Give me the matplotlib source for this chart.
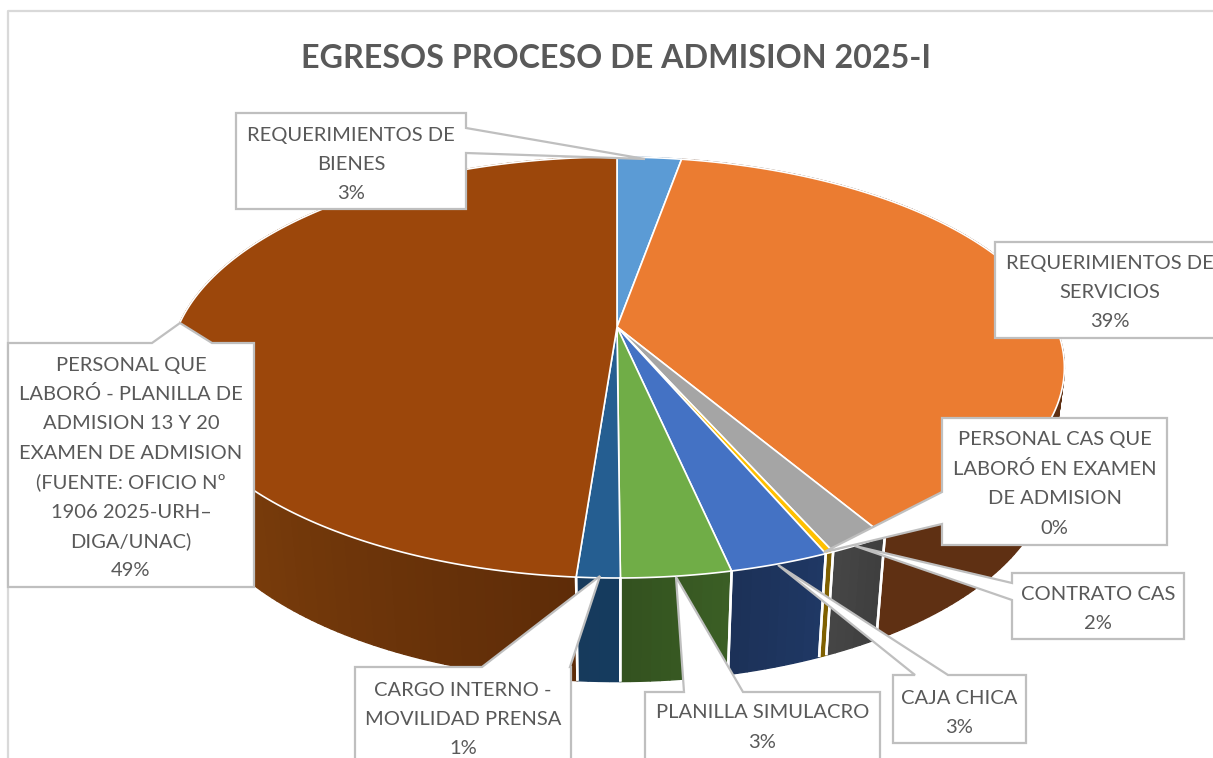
import numpy as np
import matplotlib
matplotlib.use("Agg")
import matplotlib.pyplot as plt
from matplotlib.patches import Polygon

title = "EGRESOS PROCESO DE ADMISION 2025-I"

# clockwise from 12 o'clock
names = [
    "REQUERIMIENTOS DE\nBIENES",
    "REQUERIMIENTOS DE\nSERVICIOS",
    "CONTRATO CAS",
    "PERSONAL CAS QUE\nLABORÓ EN EXAMEN\nDE ADMISION",
    "CAJA CHICA",
    "PLANILLA SIMULACRO",
    "CARGO INTERNO -\nMOVILIDAD PRENSA",
    "PERSONAL QUE\nLABORÓ - PLANILLA DE\nADMISION 13 Y 20\nEXAMEN DE ADMISION\n(FUENTE: OFICIO Nº\n1906 2025-URH–\nDIGA/UNAC)",
]
values = [2.8, 38.7, 1.85, 0.25, 3.0, 3.3, 1.3, 48.8]
top_colors = ["#5B9BD5", "#EB7C31", "#A5A5A5", "#FFC000", "#4472C4", "#70AD47", "#255E91", "#9C470B"]
wall_left = ["#2F5F8F", "#5F3013", "#3F3F3F", "#7F6000", "#1F3864", "#3B5E25", "#153B5F", "#80400C"]
wall_right = ["#2F5F8F", "#5F3013", "#454545", "#7F6000", "#1C3158", "#33521F", "#163A5C", "#5E2C08"]

# label box: x0, y0, x1, y1, text centre y of the first line
boxes = [
    (236, 113, 466, 209, 135),
    (995, 242, 1225, 338, 263),
    (1012, 573, 1184, 639, 594),
    (942, 418, 1167, 545, 440),
    (893, 675, 1026, 743, 698),
    (645, 692, 880, 775, 713),
    (355, 667, 571, 775, 690),
    (8, 343, 254, 587, 365),
]
# leader: tip and the two points where it leaves the box (None = no leader)
leaders = [
    ((645, 159), (466, 128), (466, 153)),
    None,
    ((855, 546), (1012, 583), (1012, 600)),
    ((824, 552), (942, 492), (942, 524)),
    ((778, 565), (915, 675), (948, 675)),
    ((676, 577), (684, 692), (743, 692)),
    ((600, 576), (482, 667), (570, 667)),
    ((180, 323), (152, 343), (212, 343)),
]

GREY = "#BFBFBF"
TEXT = "#595959"
K = 0.1924


def top_rim(theta):
    u, v = np.sin(theta), -np.cos(theta)
    w = 1 - K * v
    return 617 + 439 * u / w, 327 + 202.7 * v / w


def bottom_rim(theta):
    u, v = np.sin(theta), -np.cos(theta)
    w = 1 - K * v
    return 617 + 425 * u / w, 429 + 204 * v / w


def hex_rgb(c):
    return np.array(matplotlib.colors.to_rgb(c))


fig = plt.figure(figsize=(12.13, 7.58), dpi=100)
ax = fig.add_axes([0, 0, 1, 1])
ax.set_xlim(0, 1213)
ax.set_ylim(758, 0)
ax.axis("off")

# chart frame
ax.plot([8, 8, 1213], [758, 10.5, 10.5], color="#D9D9D9", lw=1.6, zorder=1)

ax.text(616, 58, title, ha="center", va="center", fontsize=23.2, fontweight="bold",
        family="Lato", color=TEXT, zorder=6)

edges = np.concatenate([[0], np.cumsum(values)]) / sum(values) * 2 * np.pi

# side walls first, cut into thin strips for the shading
for i in range(len(values)):
    a0, a1 = edges[i], edges[i + 1]
    n = max(2, int((a1 - a0) / np.radians(1)))
    ts = np.linspace(a0, a1, n + 1)
    for j in range(n):
        f = j / max(n - 1, 1)
        col = hex_rgb(wall_right[i]) * f + hex_rgb(wall_left[i]) * (1 - f)
        if i == 7:
            # brown wall gets darker going towards the front
            f = np.clip((ts[j] - a0) / np.radians(55), 0, 1)
            col = hex_rgb(wall_right[i]) * (1 - f) + hex_rgb(wall_left[i]) * f
        tx0, ty0 = top_rim(ts[j])
        tx1, ty1 = top_rim(ts[j + 1])
        bx0, by0 = bottom_rim(ts[j])
        bx1, by1 = bottom_rim(ts[j + 1])
        ax.add_patch(Polygon([(tx0, ty0), (tx1, ty1), (bx1, by1), (bx0, by0)],
                             facecolor=col, edgecolor=col, lw=1.0, zorder=2))
    for t in (a0, a1):
        if np.cos(t) < 0:
            tx, ty = top_rim(t)
            bx, by = bottom_rim(t)
            ax.plot([tx, bx], [ty, by], color="white", lw=1.8, zorder=2.5, solid_capstyle="butt")

# top faces
cx, cy = top_rim(0)[0], 327
for i in range(len(values)):
    ts = np.linspace(edges[i], edges[i + 1], 200)
    x, y = top_rim(ts)
    pts = np.column_stack([np.r_[cx, x], np.r_[cy, y]])
    ax.add_patch(Polygon(pts, closed=True, facecolor=top_colors[i], edgecolor="white",
                         lw=1.2, joinstyle="round", zorder=3))

# callouts
for i, name in enumerate(names):
    x0, y0, x1, y1, ty = boxes[i]
    outline = [(x0, y0), (x1, y0), (x1, y1), (x0, y1)]
    if leaders[i] is not None:
        tip, p, q = leaders[i]
        if p[0] == q[0]:
            # leaves through a vertical side of the box
            if p[0] == x1:
                outline = [(x0, y0), (x1, y0), p, tip, q, (x1, y1), (x0, y1)]
            else:
                outline = [(x0, y0), (x1, y0), (x1, y1), (x0, y1), q, tip, p]
        else:
            outline = [(x0, y0), p, tip, q, (x1, y0), (x1, y1), (x0, y1)]
    ax.add_patch(Polygon(outline, closed=True, facecolor="white", edgecolor=GREY,
                         lw=1.6, joinstyle="miter", zorder=4, clip_on=True))
    lines = name.split("\n") + [f"{round(values[i])}%"]
    for k, line in enumerate(lines):
        ax.text((x0 + min(x1, 1213 + 12)) / 2, ty + k * 29.4, line, ha="center", va="center",
                fontsize=14.5, family="Lato", color=TEXT, zorder=5)

fig.savefig("out.png", dpi=100, facecolor="white")
